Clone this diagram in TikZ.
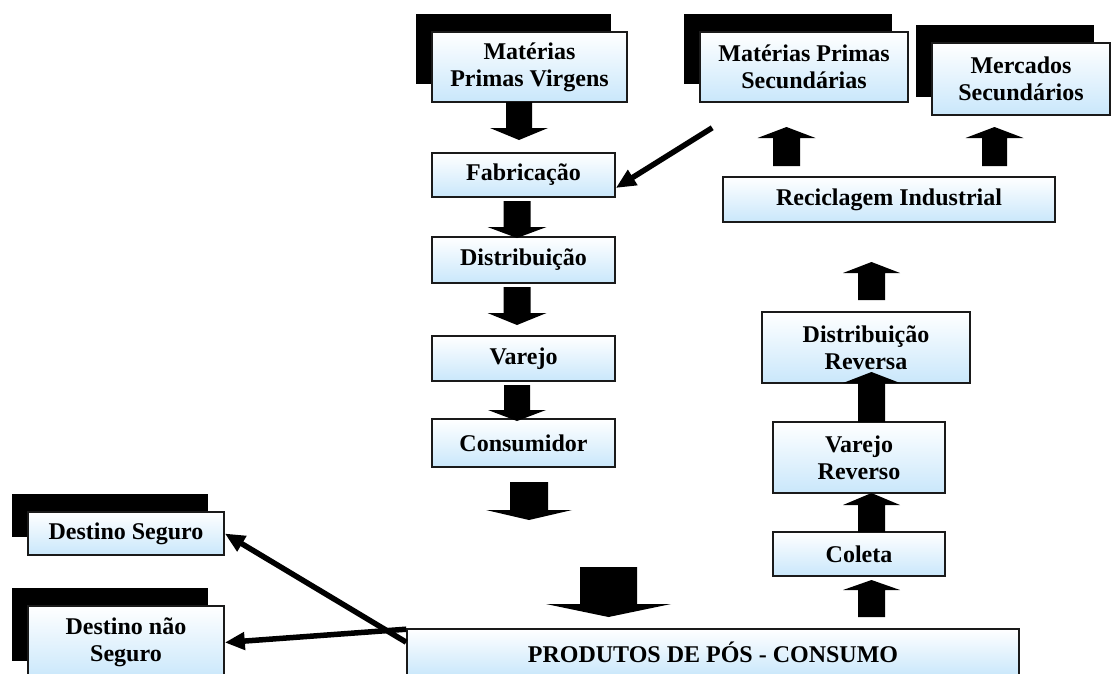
\documentclass[tikz,border=0pt]{standalone}
\usepackage{fontspec}
\setmainfont{Liberation Serif}
\usetikzlibrary{arrows.meta,shadows,calc}
\definecolor{boxblue}{HTML}{C9E7FB}
\definecolor{boxedge}{HTML}{1A1A1A}
\newcommand\blockarr[6]{\fill[black] (#1-#5,#2) -- (#1+#5,#2) -- (#1+#5,#3) -- (#1+#6,#3) -- (#1,#4) -- (#1-#6,#3) -- (#1-#5,#3) -- cycle;}
\begin{document}
\begin{tikzpicture}[x=1pt,y=-1pt,
  box/.style={draw=boxedge, line width=1.6pt, top color=white, bottom color=boxblue, inner sep=0pt, align=center, font=\fontsize{24}{27}\selectfont\bfseries},
  shbox/.style={box, general shadow={fill=black, shadow xshift=-16pt, shadow yshift=18pt}},
  linkarr/.style={line width=5.5pt, -{Triangle[length=20pt,width=17pt]}}]
\useasboundingbox (0,0) rectangle (1114,673);
\clip (0,0) rectangle (1114,673);
% left column
\node[shbox, minimum width=195pt, minimum height=70pt] (mpv) at (529.5,67) {Matérias\\Primas Virgens};
\node[box, minimum width=183pt, minimum height=44pt] (fab) at (523.5,175) {Fabricação};
\node[box, minimum width=183pt, minimum height=46pt] (dist) at (523.5,260) {Distribuição};
\node[box, minimum width=183pt, minimum height=45pt] (var) at (523.5,358.5) {Varejo};
\node[box, minimum width=183pt, minimum height=48pt] (cons) at (523.5,443) {Consumidor};
% right column
\node[shbox, minimum width=208pt, minimum height=70pt] (mps) at (804,67) {Matérias Primas\\Secundárias};
\node[shbox, minimum width=178pt, minimum height=72pt] (merc) at (1021,79) {Mercados\\Secundários};
\node[box, minimum width=332pt, minimum height=45pt] (rec) at (889,199.5) {Reciclagem Industrial};
\node[box, minimum width=208pt, minimum height=71pt] (dr) at (866,347.5) {Distribuição\\Reversa};
\node[box, minimum width=172pt, minimum height=71pt] (vr) at (859,457.5) {Varejo\\Reverso};
\node[box, minimum width=172pt, minimum height=44pt] (col) at (859,554) {Coleta};
% bottom
\node[box, minimum width=612pt, minimum height=47pt] (prod) at (713,652.5) {PRODUTOS DE PÓS - CONSUMO};
\node[shbox, minimum width=196pt, minimum height=43pt] (ds) at (126,533.5) {Destino Seguro};
\node[shbox, minimum width=196pt, minimum height=73pt] (dns) at (126,642.5) {Destino não\\Seguro};
% block arrows down
\blockarr{519}{102}{128}{140}{13}{29}
\blockarr{517}{201}{227}{238}{13.5}{29.5}
\blockarr{517}{287}{313}{325}{13.5}{29.5}
\blockarr{517}{385}{410}{421}{13}{29}
\blockarr{529}{482}{510}{520}{19}{43}
\blockarr{608.5}{567}{604}{617}{28.5}{62.5}
% block arrows up
\blockarr{786.5}{166}{138}{127}{13.5}{29}
\blockarr{994.5}{166}{138}{127}{12.5}{29}
\blockarr{871.5}{300}{273}{262}{13.5}{28.5}
\blockarr{871.5}{422}{383}{372}{13.5}{28.5}
\blockarr{871.5}{532}{505}{493}{13.5}{28.5}
\blockarr{871.5}{617}{590}{580}{13.5}{28.5}
% thin arrows
\coordinate (mpsfrom) at ([xshift=13pt,yshift=-25pt]mps.south west);
\draw[linkarr] (mpsfrom) -- ([yshift=-13pt]fab.east);
\draw[linkarr] ([yshift=-14pt]prod.north west) -- (ds.east);
\draw[linkarr] ([yshift=-1pt]prod.north west) -- (dns.east);
\end{tikzpicture}
\end{document}
